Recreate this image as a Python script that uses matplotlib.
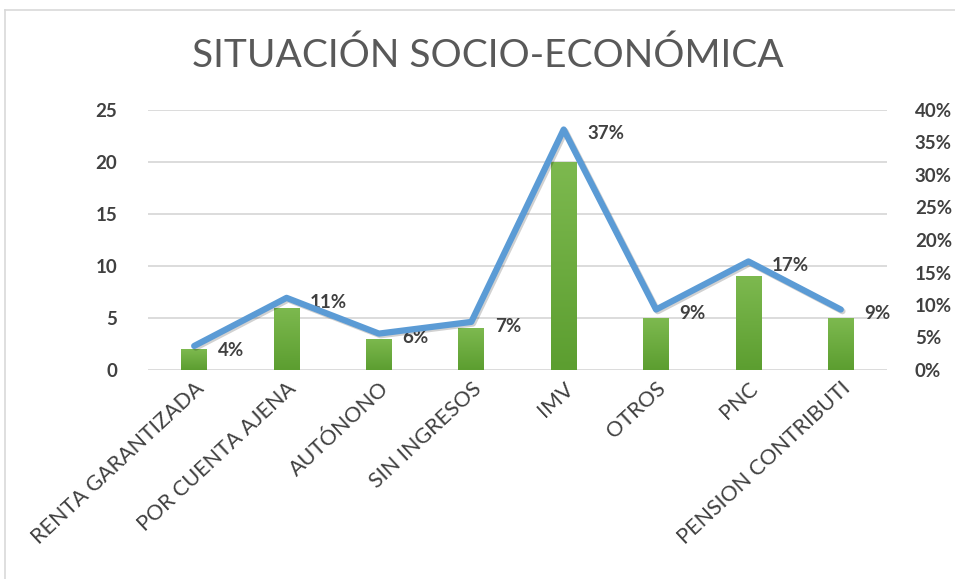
import numpy as np
import matplotlib
import matplotlib.pyplot as plt
import matplotlib.patheffects as pe
from matplotlib.lines import Line2D

matplotlib.use('Agg')

categorias = ['RENTA GARANTIZADA', 'POR CUENTA AJENA', 'AUTÓNONO', 'SIN INGRESOS',
              'IMV', 'OTROS', 'PNC', 'PENSION CONTRIBUTI']
casos = [2, 6, 3, 4, 20, 5, 9, 5]
porcentajes = [0.037, 0.111, 0.056, 0.074, 0.370, 0.093, 0.167, 0.093]
etiquetas = ['4%', '11%', '6%', '7%', '37%', '9%', '17%', '9%']

txt = '#404040'
grid_c = '#d9d9d9'
font_main = ['Lato', 'DejaVu Sans']

fig = plt.figure(figsize=(9.55, 5.79), dpi=100)
ax = fig.add_axes([148 / 955, 1 - 370 / 579, 739 / 955, 260 / 579])
ax2 = ax.twinx()

# chart frame (left and top edge visible)
fig.add_artist(Line2D([5 / 955, 5 / 955], [0, 1 - 10 / 579], color=grid_c, lw=1.2))
fig.add_artist(Line2D([5 / 955, 1], [1 - 10 / 579, 1 - 10 / 579], color=grid_c, lw=1.2))

x = np.arange(len(categorias))
bars = ax.bar(x, casos, width=0.28, color='#6aad3a', zorder=2)
grad = np.linspace(0, 1, 100).reshape(-1, 1)
cmap = matplotlib.colors.LinearSegmentedColormap.from_list('g', ['#5c9e30', '#7db94f'])
for b in bars:
    bx, by, bw, bh = b.get_x(), b.get_y(), b.get_width(), b.get_height()
    im = ax.imshow(grad, extent=[bx, bx + bw, by, by + bh], origin='lower', cmap=cmap,
                   aspect='auto', zorder=3)
    im.set_clip_path(b)

ax.set_xlim(-0.5, len(categorias) - 0.5)
ax.set_ylim(0, 25)
ax.set_yticks(range(0, 26, 5))
ax.grid(axis='y', color=grid_c, lw=1.3, zorder=0)
ax.set_axisbelow(True)
for s in ax.spines.values():
    s.set_visible(False)
for s in ax2.spines.values():
    s.set_visible(False)
ax.tick_params(length=0, pad=22, labelsize=13.5, labelcolor=txt)
ax.tick_params(axis='x', pad=6)
ax.set_xticks(x)
ax.set_xticklabels(categorias, rotation=43, ha='right', rotation_mode='anchor',
                   fontsize=15.5, color='#404040', family=font_main)
for lab in ax.get_yticklabels():
    lab.set_family(font_main)
    lab.set_fontweight('bold')

ax2.plot(x, porcentajes, color='#5b9bd5', lw=4.5, solid_capstyle='round', zorder=5,
         path_effects=[pe.SimpleLineShadow(offset=(1.2, -1.2), alpha=0.18), pe.Normal()])
ax2.set_ylim(0, 0.40)
ax2.set_yticks(np.arange(0, 0.41, 0.05))
ax2.set_yticklabels([f'{int(round(v * 100))}%' for v in np.arange(0, 0.41, 0.05)],
                    family=font_main, fontweight='bold')
ax2.tick_params(length=0, pad=20, labelsize=13.5, labelcolor=txt)

for xi, p, e in zip(x, porcentajes, etiquetas):
    ax2.annotate(e, (xi, p), xytext=(17, -3), textcoords='offset points', ha='left',
                 va='center', fontsize=13.5, color=txt, family=font_main, fontweight='bold')

fig.text(488 / 955, 1 - 56 / 579, 'SITUACIÓN SOCIO-ECONÓMICA', ha='center', va='center',
         fontsize=28, color='#595959', family=font_main)

fig.savefig('out.png', dpi=100)
